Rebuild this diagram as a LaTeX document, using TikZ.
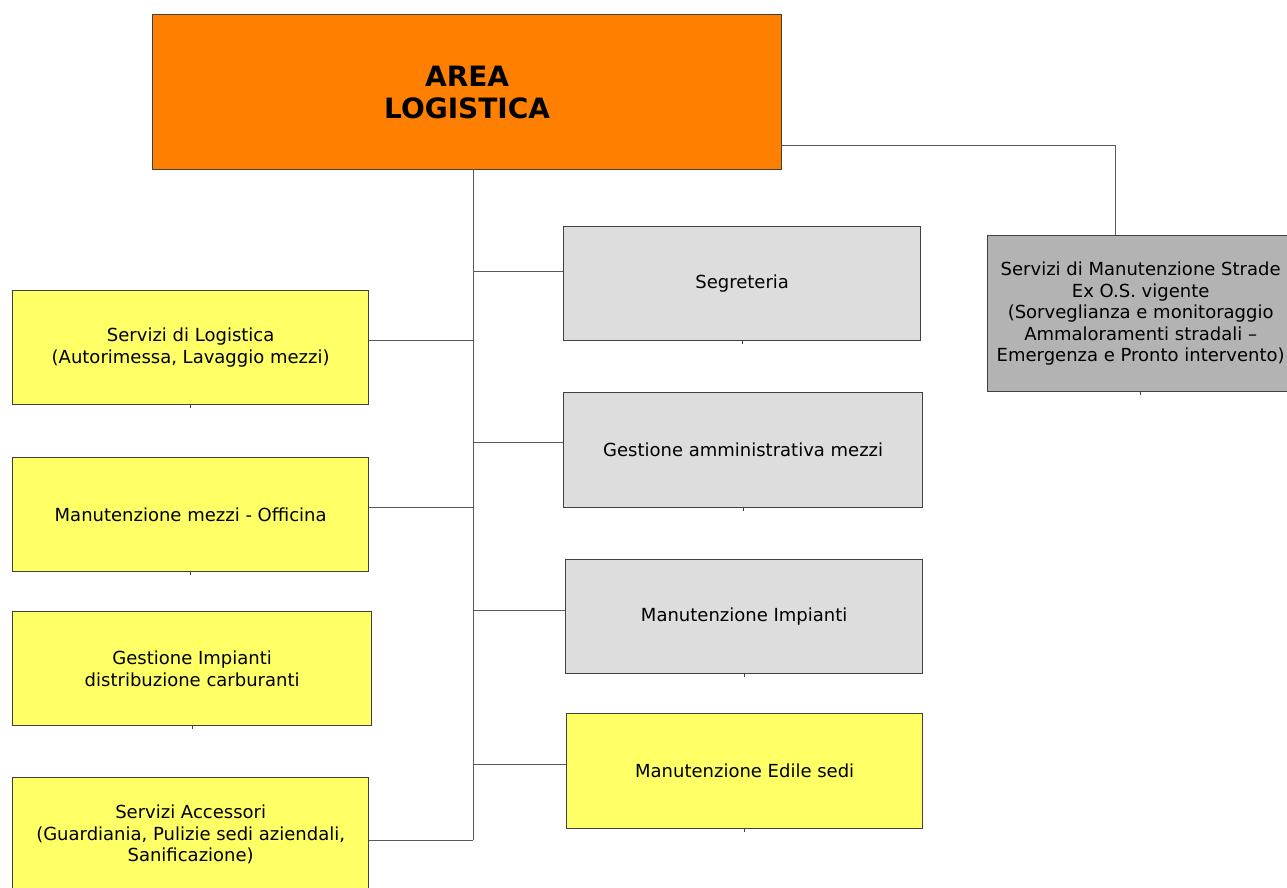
\documentclass[tikz,border=0pt]{standalone}
\usepackage{fontspec}
\setmainfont{DejaVu Sans}
\definecolor{areaorange}{HTML}{FF8000}
\definecolor{boxyellow}{HTML}{FFFF66}
\definecolor{boxlight}{HTML}{DDDDDD}
\definecolor{boxdark}{HTML}{B3B3B3}
\definecolor{boxline}{HTML}{404040}
\definecolor{linkgray}{HTML}{5A5A5A}
\begin{document}
\begin{tikzpicture}[x=1pt,y=-1pt,
  box/.style={draw=boxline, line width=1.3pt, inner sep=0pt, align=center,
    anchor=north west, font=\fontsize{18}{21.5}\selectfont},
  ybox/.style={box, fill=boxyellow},
  lbox/.style={box, fill=boxlight},
  dbox/.style={box, fill=boxdark},
  areabox/.style={box, fill=areaorange, font=\fontsize{28}{32}\selectfont\bfseries},
  link/.style={draw=linkgray, line width=1pt},
  tick/.style={draw=boxline, line width=1.2pt}]

\useasboundingbox (0,0) rectangle (1287,887);
\clip (0,0) rectangle (1287,887);
\fill[white] (0,0) rectangle (1287,887);

% head of the area
\node[areabox, minimum width=629, minimum height=155] (area) at (152,14) {AREA\\LOGISTICA};

% left column
\node[ybox, minimum width=356, minimum height=114] (logi) at (12,290)
  {Servizi di Logistica\\(Autorimessa, Lavaggio mezzi)};
\node[ybox, minimum width=356, minimum height=114] (offi) at (12,457)
  {Manutenzione mezzi - Officina};
\node[ybox, minimum width=359, minimum height=114] (carb) at (12,611)
  {Gestione Impianti\\distribuzione carburanti};
\node[ybox, minimum width=356, minimum height=114] (acce) at (12,777)
  {Servizi Accessori\\(Guardiania, Pulizie sedi aziendali,\\Sanificazione)};

% right column
\node[lbox, minimum width=357, minimum height=114] (segr) at (563,226) {Segreteria};
\node[lbox, minimum width=359, minimum height=115] (gamm) at (563,392) {Gestione amministrativa mezzi};
\node[lbox, minimum width=357, minimum height=114] (mimp) at (565,559) {Manutenzione Impianti};
\node[ybox, minimum width=356, minimum height=115] (edil) at (566,713) {Manutenzione Edile sedi};

% road maintenance service
\node[dbox, minimum width=306, minimum height=156] (strd) at (987,235)
  {Servizi di Manutenzione Strade\\Ex O.S. vigente\\(Sorveglianza e monitoraggio\\Ammaloramenti stradali --\\Emergenza e Pronto intervento)};

% trunk and branches
\coordinate (trunkTop) at (473,169);
\coordinate (trunkEnd) at (473,840);
\draw[link] (trunkTop) -- (trunkEnd);

\coordinate (b1) at (473,271);
\coordinate (b2) at (473,340);
\coordinate (b3) at (473,442);
\coordinate (b4) at (473,507);
\coordinate (b5) at (473,610);
\coordinate (b6) at (473,764);
\draw[link] (b1) -- (b1 -| segr.west);
\draw[link] (b2) -- (b2 -| logi.east);
\draw[link] (b3) -- (b3 -| gamm.west);
\draw[link] (b4) -- (b4 -| offi.east);
\draw[link] (b5) -- (b5 -| mimp.west);
\draw[link] (b6) -- (b6 -| edil.west);
\draw[link] (trunkEnd) -- (trunkEnd -| acce.east);

\coordinate (elbow) at (1115,145);
\draw[link] (elbow -| area.east) -- (elbow) -- (elbow |- strd.north);

% small marks under the boxes
\foreach \b in {logi,offi,carb,segr,gamm,mimp,edil,strd}
  \draw[tick] (\b.south) -- ++(0,3);
\end{tikzpicture}
\end{document}
